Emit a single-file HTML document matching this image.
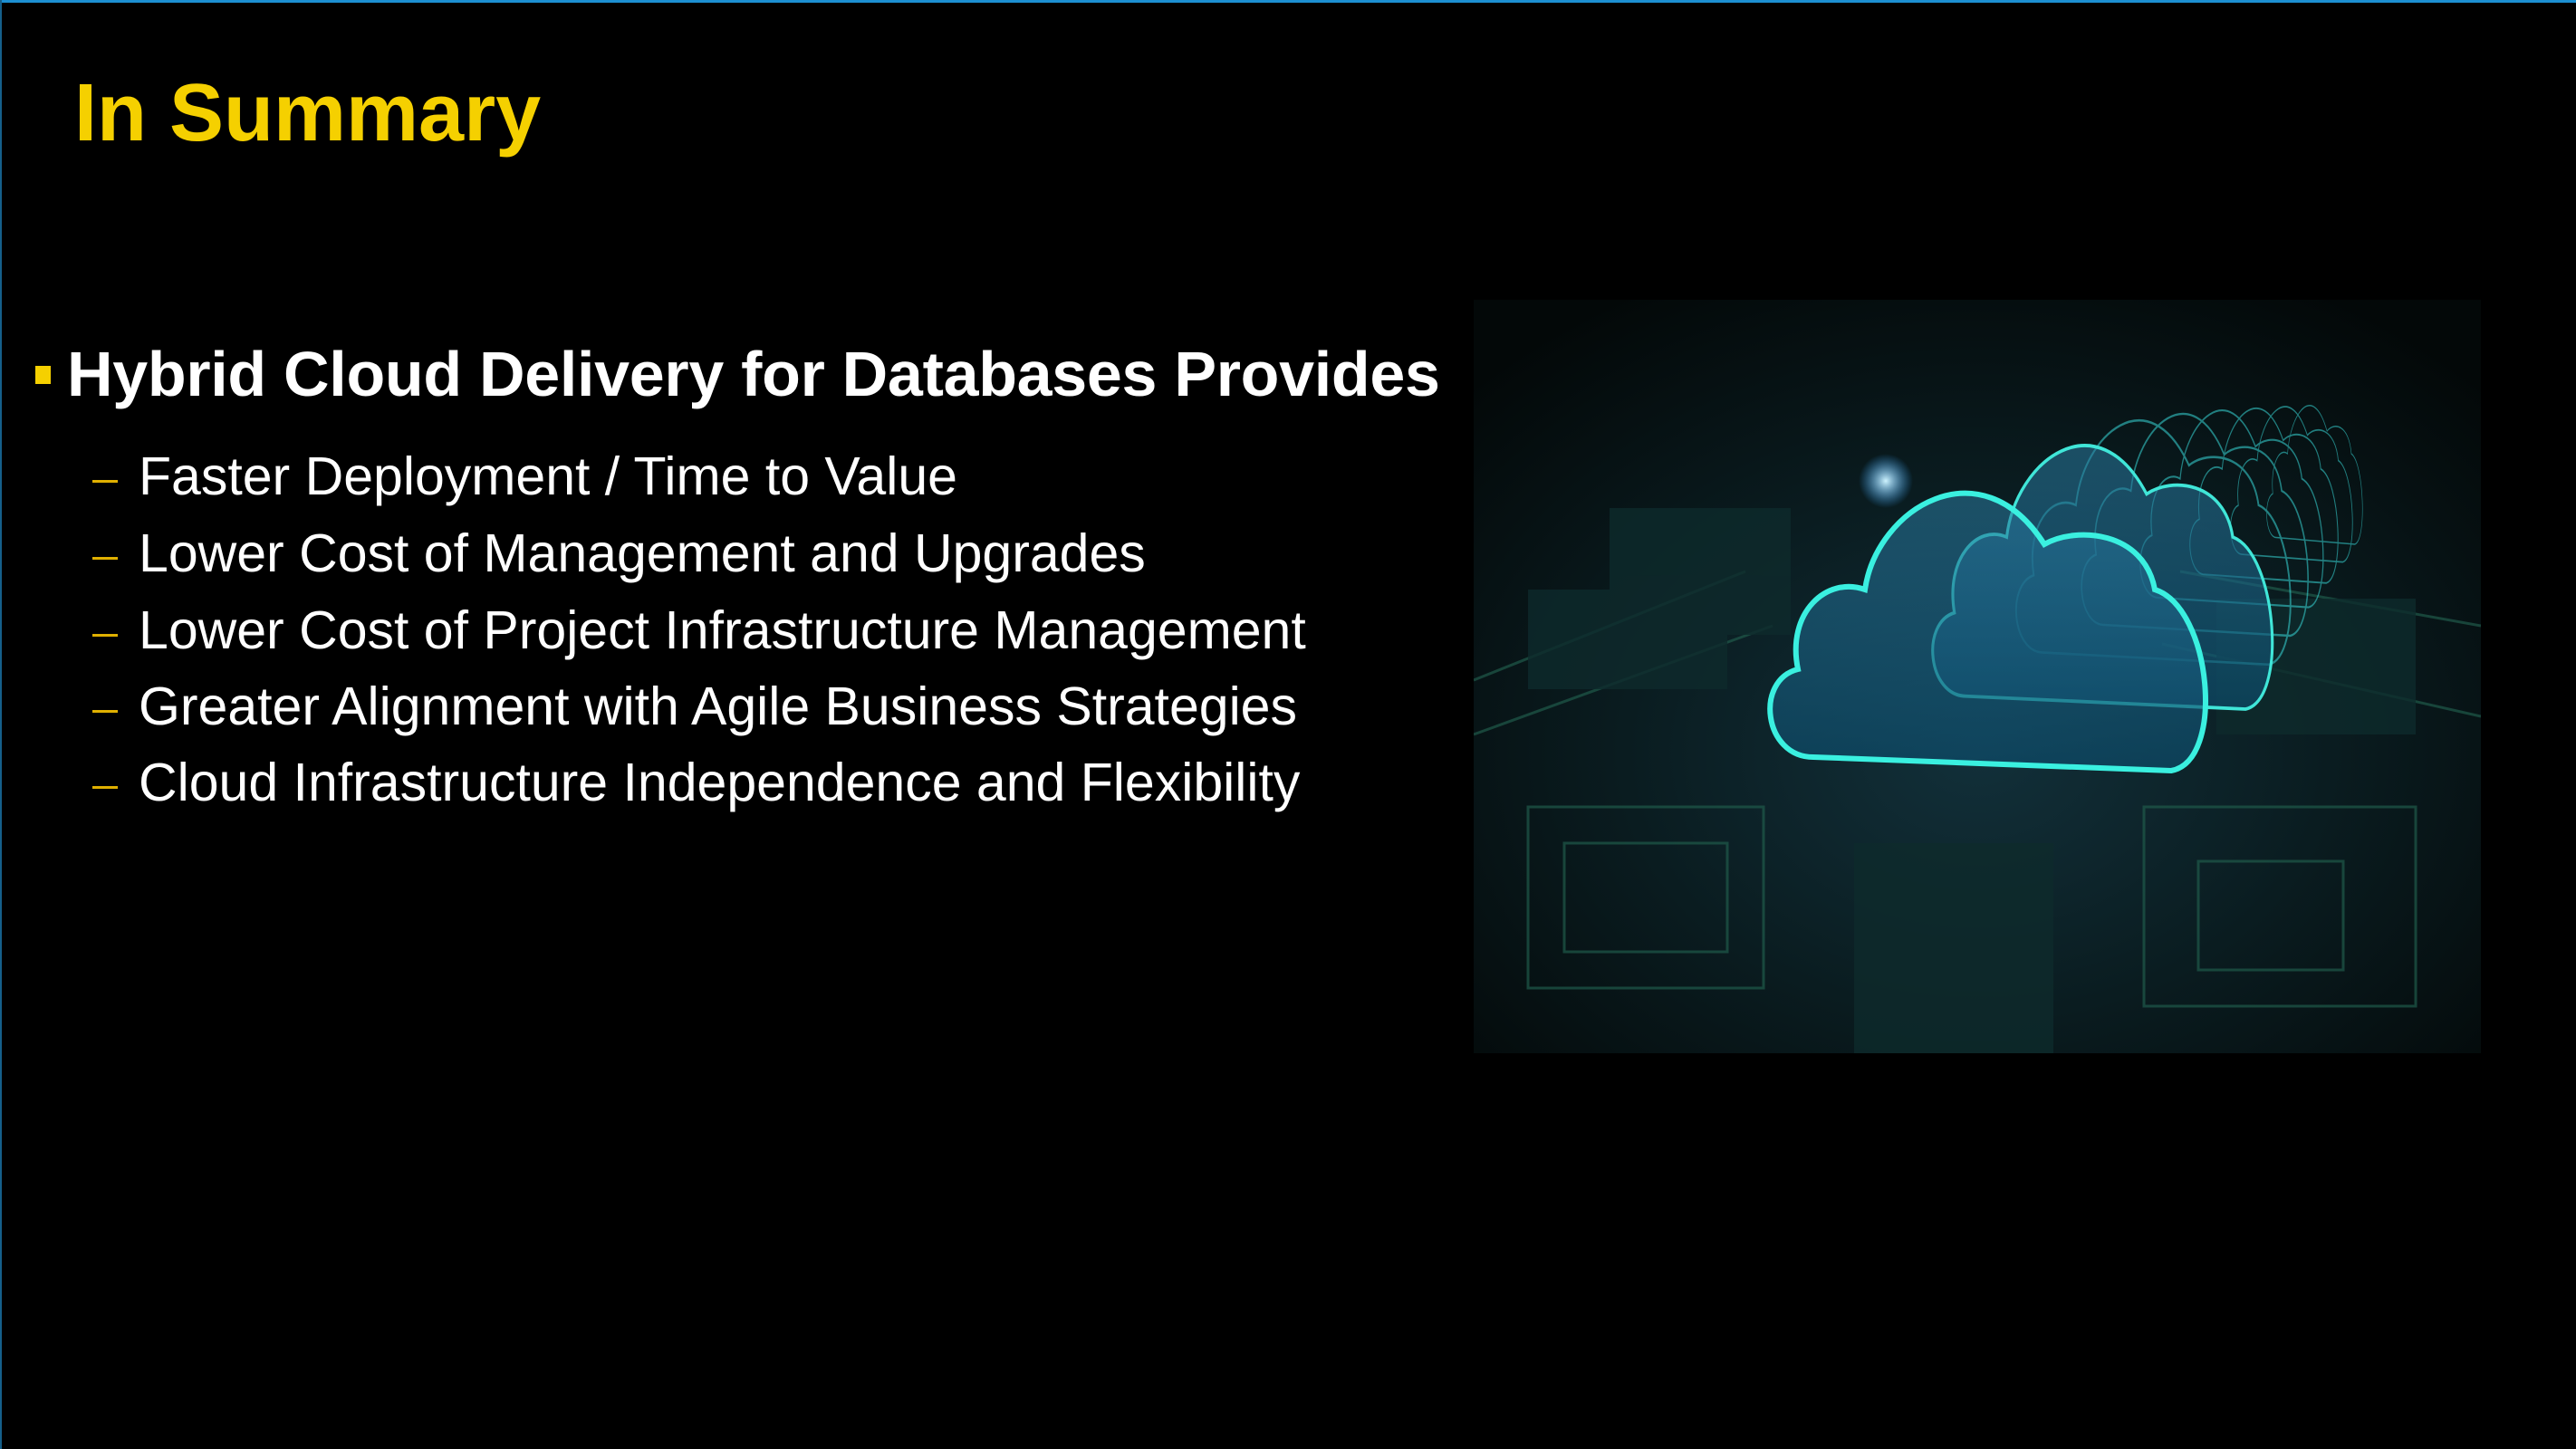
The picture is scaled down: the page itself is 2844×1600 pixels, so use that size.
<!DOCTYPE html>
<html><head><meta charset="utf-8"><style>
html,body{margin:0;padding:0;background:#000;}
body{width:2844px;height:1600px;position:relative;overflow:hidden;font-family:"Liberation Sans",Arial,sans-serif;}
.bt{position:absolute;left:0;top:0;width:2844px;height:3px;background:#1c8fd2;}
.bl{position:absolute;left:0;top:0;width:2px;height:1600px;background:#155f8a;}
.t{position:absolute;left:82px;top:74px;font-size:90px;font-weight:bold;color:#f5d000;white-space:nowrap;}
.h{position:absolute;left:74px;top:373px;font-size:70px;font-weight:bold;color:#fff;white-space:nowrap;letter-spacing:-0.3px;}
.sq{position:absolute;left:39px;top:404px;width:17px;height:20px;background:#f5d000;}
.i{position:absolute;left:153px;font-size:59px;color:#fff;white-space:nowrap;}
.d{position:absolute;left:102px;width:28px;height:3px;background:#e0b000;}
svg{position:absolute;left:1627px;top:331px;}
</style></head><body>
<div class="bt"></div><div class="bl"></div>
<div class="t">In Summary</div>
<div class="sq"></div>
<div class="h">Hybrid Cloud Delivery for Databases Provides</div>
<div class="d" style="top:530px"></div><div class="i" style="top:492px">Faster Deployment / Time to Value</div>
<div class="d" style="top:615px"></div><div class="i" style="top:577px">Lower Cost of Management and Upgrades</div>
<div class="d" style="top:700px"></div><div class="i" style="top:662px">Lower Cost of Project Infrastructure Management</div>
<div class="d" style="top:784px"></div><div class="i" style="top:746px">Greater Alignment with Agile Business Strategies</div>
<div class="d" style="top:868px"></div><div class="i" style="top:830px">Cloud Infrastructure Independence and Flexibility</div>
<svg width="1112" height="832" viewBox="0 0 1112 832">
<defs>
<radialGradient id="bg" cx="0.5" cy="0.6" r="0.7">
<stop offset="0" stop-color="#12303a"/><stop offset="0.5" stop-color="#0a1c20"/><stop offset="1" stop-color="#030808"/>
</radialGradient>
<linearGradient id="cf" x1="0" y1="0" x2="0" y2="1">
<stop offset="0" stop-color="#2a7aa0" stop-opacity="0.55"/><stop offset="1" stop-color="#0c4a68" stop-opacity="0.7"/>
</linearGradient>
<radialGradient id="gl" cx="0.5" cy="0.5" r="0.5"><stop offset="0" stop-color="#cff4ff"/><stop offset="1" stop-color="#2aa0ff" stop-opacity="0"/></radialGradient>
<path id="cl" d="M375,505 C320,505 310,420 358,408 C345,345 390,305 432,320 C445,230 560,160 630,270 C665,250 740,255 752,320 C815,340 830,510 770,520 Z"/>
</defs>
<rect width="1112" height="832" fill="url(#bg)"/>
<g stroke="#1f5a4a" stroke-width="3" fill="none" opacity="0.7">
<rect x="60" y="560" width="260" height="200"/><rect x="100" y="600" width="180" height="120"/>
<rect x="740" y="560" width="300" height="220"/><rect x="800" y="620" width="160" height="120"/>
<path d="M0,420 L300,300 M0,480 L330,360 M780,300 L1112,360 M760,380 L1112,460"/>
</g>
<g fill="#0e2a2c" opacity="0.8">
<rect x="150" y="230" width="200" height="140"/><rect x="60" y="320" width="220" height="110"/>
<rect x="820" y="330" width="220" height="150"/><rect x="420" y="600" width="220" height="232"/>
</g>
<g fill="none" stroke="#38d8d8" stroke-width="3" opacity="0.55">
<use href="#cl" transform="translate(930,190) scale(0.22,0.5) translate(-575,-360)"/>
<use href="#cl" transform="translate(905,200) scale(0.28,0.56) translate(-575,-360)"/>
<use href="#cl" transform="translate(875,212) scale(0.34,0.63) translate(-575,-360)"/>
<use href="#cl" transform="translate(840,226) scale(0.42,0.71) translate(-575,-360)"/>
<use href="#cl" transform="translate(800,243) scale(0.52,0.8) translate(-575,-360)"/>
<use href="#cl" transform="translate(755,262) scale(0.63,0.88) translate(-575,-360)"/>
</g>
<use href="#cl" transform="translate(700,300) scale(0.78,0.95) translate(-575,-360)" fill="url(#cf)" stroke="#40e6d8" stroke-width="4"/>
<use href="#cl" fill="url(#cf)" stroke="#3af0e0" stroke-width="6"/>
<circle cx="455" cy="200" r="30" fill="url(#gl)"/>
</svg>
</body></html>
